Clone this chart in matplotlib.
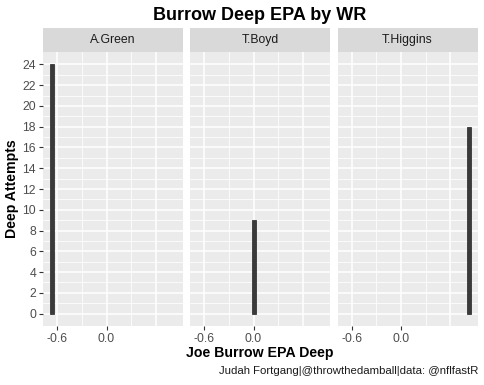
import matplotlib.pyplot as plt

plt.rcParams['font.family'] = ['Liberation Sans', 'DejaVu Sans']

receivers = ['A.Green', 'T.Boyd', 'T.Higgins']
epa_deep = [-0.665, 0.005, 0.83]
deep_attempts = [24, 9, 18]

x_ticks = [-0.6, 0.0]
x_labels = ['-0.6', '0.0']
x_grid_major = [-0.6, 0.0, 0.6]
x_grid_minor = [-0.3, 0.3]
y_ticks = list(range(0, 25, 2))
y_grid_minor = list(range(1, 25, 2))

W, H = 484, 385
fig = plt.figure(figsize=(W / 100, H / 100), dpi=100)

lefts = [43, 190, 337.5]
pw = 140
ptop, pbot = 52, 326
strip_h = 24

for i, (name, x, y) in enumerate(zip(receivers, epa_deep, deep_attempts)):
    ax = fig.add_axes([lefts[i] / W, (H - pbot) / H, pw / W, (pbot - ptop) / H])
    ax.set_facecolor('#EBEBEB')
    for s in ax.spines.values():
        s.set_visible(False)
    for g in x_grid_minor:
        ax.axvline(g, color='white', lw=0.55, zorder=0)
    for g in x_grid_major:
        ax.axvline(g, color='white', lw=1.1, zorder=0)
    for g in y_grid_minor:
        ax.axhline(g, color='white', lw=0.55, zorder=0)
    for g in y_ticks:
        ax.axhline(g, color='white', lw=1.1, zorder=0)
    ax.bar([x], [y], width=0.05, color='#3A3A3A', edgecolor='#222222', lw=0.5, zorder=2)
    ax.set_xlim(-0.772, 0.93)
    ax.set_ylim(-1.2, 25.2)
    ax.set_xticks(x_ticks)
    ax.set_xticklabels(x_labels)
    ax.tick_params(axis='both', length=3, width=0.8, color='#333333',
                   labelcolor='#4D4D4D', labelsize=8.8, pad=2)
    ax.set_yticks(y_ticks)
    if i > 0:
        ax.tick_params(axis='y', left=False, labelleft=False)
    # facet strip
    sax = fig.add_axes([lefts[i] / W, (H - ptop) / H, pw / W, strip_h / H])
    sax.set_facecolor('#D9D9D9')
    sax.set_xticks([])
    sax.set_yticks([])
    for s in sax.spines.values():
        s.set_visible(False)
    sax.text(0.5, 0.5, name, ha='center', va='center', fontsize=8.8, color='#1A1A1A',
             transform=sax.transAxes)

fig.text(260 / W, 1 - 15 / H, 'Burrow Deep EPA by WR', ha='center', va='center',
         fontsize=13, fontweight='bold', color='black')
fig.text(260 / W, 1 - 353 / H, 'Joe Burrow EPA Deep', ha='center', va='center',
         fontsize=10.2, fontweight='bold', color='black')
fig.text(12 / W, 1 - 189 / H, 'Deep Attempts', ha='center', va='center', rotation=90,
         fontsize=10.2, fontweight='bold', color='black')
fig.text(478 / W, 1 - 371 / H, 'Judah Fortgang|@throwthedamball|data: @nflfastR',
         ha='right', va='center', fontsize=8.2, color='#1A1A1A')

fig.savefig('out.png', dpi=100)
